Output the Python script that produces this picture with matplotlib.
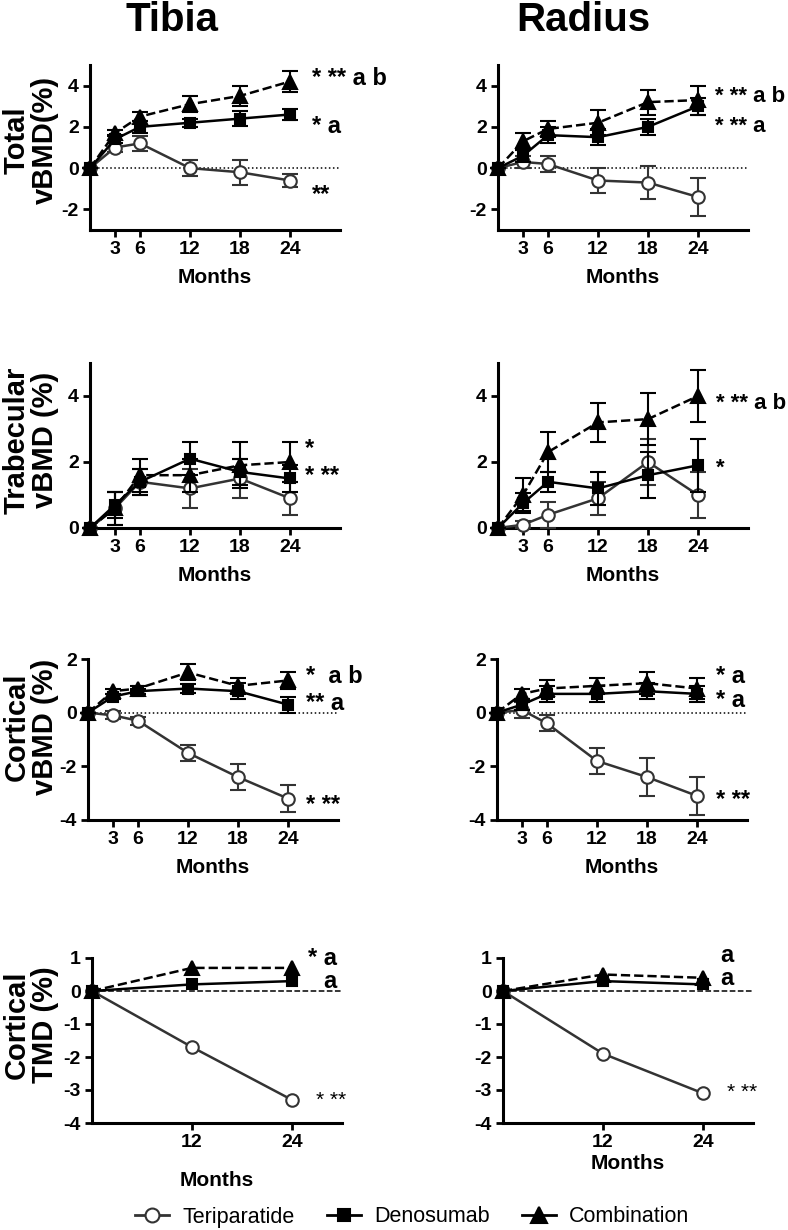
import matplotlib.pyplot as plt
from matplotlib.lines import Line2D
import numpy as np

plt.rcParams['font.family'] = ['Liberation Sans', 'DejaVu Sans']
plt.rcParams['font.weight'] = 'bold'
plt.rcParams['axes.unicode_minus'] = False

months = [0, 3, 6, 12, 18, 24]
tmd_months = [0, 12, 24]
groups = ['Teriparatide', 'Denosumab', 'Combination']

# total vBMD (%)
tib_tot_teri = [0, 1.0, 1.2, 0.0, -0.2, -0.6]
tib_tot_teri_se = [0, 0.2, 0.35, 0.4, 0.6, 0.3]
tib_tot_deno = [0, 1.4, 2.0, 2.2, 2.4, 2.6]
tib_tot_deno_se = [0, 0.2, 0.3, 0.2, 0.36, 0.25]
tib_tot_comb = [0, 1.7, 2.5, 3.1, 3.5, 4.2]
tib_tot_comb_se = [0, 0.15, 0.2, 0.4, 0.5, 0.5]

rad_tot_teri = [0, 0.3, 0.2, -0.6, -0.7, -1.4]
rad_tot_teri_se = [0, 0.3, 0.4, 0.6, 0.8, 0.9]
rad_tot_deno = [0, 0.6, 1.6, 1.5, 2.0, 3.0]
rad_tot_deno_se = [0, 0.3, 0.4, 0.4, 0.4, 0.4]
rad_tot_comb = [0, 1.3, 1.9, 2.2, 3.2, 3.3]
rad_tot_comb_se = [0, 0.4, 0.4, 0.6, 0.6, 0.7]

# trabecular vBMD (%)
tib_trab_teri = [0, 0.6, 1.4, 1.2, 1.5, 0.9]
tib_trab_teri_se = [0, 0.5, 0.4, 0.6, 0.6, 0.5]
tib_trab_deno = [0, 0.7, 1.4, 2.1, 1.7, 1.5]
tib_trab_deno_se = [0, 0.4, 0.4, 0.5, 0.4, 0.4]
tib_trab_comb = [0, 0.6, 1.6, 1.6, 1.9, 2.0]
tib_trab_comb_se = [0, 0.5, 0.5, 0.5, 0.7, 0.6]

rad_trab_teri = [0, 0.1, 0.4, 0.9, 2.0, 1.0]
rad_trab_teri_se = [0, 0.1, 0.4, 0.5, 0.7, 0.7]
rad_trab_deno = [0, 0.75, 1.4, 1.2, 1.6, 1.9]
rad_trab_deno_se = [0, 0.3, 0.3, 0.5, 0.7, 0.8]
rad_trab_comb = [0, 1.0, 2.3, 3.2, 3.3, 4.0]
rad_trab_comb_se = [0, 0.5, 0.6, 0.6, 0.8, 0.8]

# cortical vBMD (%)
tib_cort_teri = [0, -0.1, -0.3, -1.5, -2.4, -3.2]
tib_cort_teri_se = [0, 0.15, 0.15, 0.3, 0.5, 0.5]
tib_cort_deno = [0, 0.6, 0.8, 0.9, 0.8, 0.3]
tib_cort_deno_se = [0, 0.1, 0.1, 0.15, 0.3, 0.3]
tib_cort_comb = [0, 0.8, 0.9, 1.5, 1.0, 1.2]
tib_cort_comb_se = [0, 0.1, 0.1, 0.3, 0.3, 0.3]

rad_cort_teri = [0, 0.1, -0.4, -1.8, -2.4, -3.1]
rad_cort_teri_se = [0, 0.3, 0.3, 0.5, 0.7, 0.7]
rad_cort_deno = [0, 0.3, 0.7, 0.7, 0.8, 0.7]
rad_cort_deno_se = [0, 0.2, 0.3, 0.3, 0.3, 0.3]
rad_cort_comb = [0, 0.7, 0.9, 1.0, 1.1, 0.9]
rad_cort_comb_se = [0, 0.2, 0.3, 0.3, 0.4, 0.4]

# cortical TMD (%), no error bars
tib_tmd_teri = [0, -1.7, -3.3]
tib_tmd_deno = [0, 0.2, 0.3]
tib_tmd_comb = [0, 0.7, 0.7]

rad_tmd_teri = [0, -1.9, -3.1]
rad_tmd_deno = [0, 0.3, 0.2]
rad_tmd_comb = [0, 0.5, 0.4]

styles = [
    dict(color='#333333', ls='-', marker='o', mfc='white', mec='#333333', ms=9),
    dict(color='black', ls='-', marker='s', mfc='black', mec='black', ms=7.5),
    dict(color='black', ls='--', marker='^', mfc='black', mec='black', ms=10),
]


def draw_panel(ax, x, series, errs, ylim, yticks, xticks, ref_ls, notes):
    for i, y in enumerate(series):
        st = styles[i]
        if errs is not None:
            ax.errorbar(x, y, yerr=errs[i], color=st['color'], ls=st['ls'], lw=1.8,
                        marker=st['marker'], mfc=st['mfc'], mec=st['mec'], mew=1.5,
                        ms=st['ms'], capsize=6, elinewidth=1.5, capthick=1.5,
                        clip_on=False, zorder=3 + i)
        else:
            ax.plot(x, y, color=st['color'], ls=st['ls'], lw=1.8, marker=st['marker'],
                    mfc=st['mfc'], mec=st['mec'], mew=1.5, ms=st['ms'],
                    clip_on=False, zorder=3 + i)
    if ref_ls:
        ax.axhline(0, color='black', ls=ref_ls, lw=1.1, zorder=1)
    ax.set_xlim(0, 30)
    ax.set_ylim(*ylim)
    ax.set_yticks(yticks)
    ax.set_xticks(xticks)
    for s in ['top', 'right']:
        ax.spines[s].set_visible(False)
    for s in ['left', 'bottom']:
        ax.spines[s].set_linewidth(2.2)
    ax.tick_params(labelsize=14, width=2, length=5, direction='out', pad=3)
    for txt, tx, ty, size, weight in notes:
        ax.text(tx, ty, txt, fontsize=size, fontweight=weight, ha='left', va='baseline',
                clip_on=False)


fig = plt.figure(figsize=(7.88, 12.3), dpi=100)
W = 250 / 788


def rect(left_px, top_px, h_px=165):
    return [left_px / 788, 1 - (top_px + h_px) / 1230, W, h_px / 1230]


ax1 = fig.add_axes(rect(90, 65))
draw_panel(ax1, months, [tib_tot_teri, tib_tot_deno, tib_tot_comb],
           [tib_tot_teri_se, tib_tot_deno_se, tib_tot_comb_se],
           (-3, 5), [-2, 0, 2, 4], [3, 6, 12, 18, 24], ':',
           [('* ** a b', 26.6, 4.05, 17, 'bold'), ('* a', 26.6, 1.7, 17, 'bold'),
            ('**', 26.6, -1.6, 17, 'bold')])
ax2 = fig.add_axes(rect(498, 65))
draw_panel(ax2, months, [rad_tot_teri, rad_tot_deno, rad_tot_comb],
           [rad_tot_teri_se, rad_tot_deno_se, rad_tot_comb_se],
           (-3, 5), [-2, 0, 2, 4], [3, 6, 12, 18, 24], ':',
           [('* ** a b', 26.0, 3.2, 16, 'bold'), ('* ** a', 26.0, 1.75, 16, 'bold')])

ax3 = fig.add_axes(rect(90, 363))
draw_panel(ax3, months, [tib_trab_teri, tib_trab_deno, tib_trab_comb],
           [tib_trab_teri_se, tib_trab_deno_se, tib_trab_comb_se],
           (0, 5), [0, 2, 4], [3, 6, 12, 18, 24], None,
           [('*', 25.8, 2.2, 17, 'bold'), ('* **', 25.8, 1.36, 17, 'bold')])
ax4 = fig.add_axes(rect(498, 363))
draw_panel(ax4, months, [rad_trab_teri, rad_trab_deno, rad_trab_comb],
           [rad_trab_teri_se, rad_trab_deno_se, rad_trab_comb_se],
           (0, 5), [0, 2, 4], [3, 6, 12, 18, 24], None,
           [('* ** a b', 26.2, 3.6, 16, 'bold'), ('*', 26.2, 1.66, 16, 'bold')])

ax5 = fig.add_axes(rect(88, 659, 161))
draw_panel(ax5, months, [tib_cort_teri, tib_cort_deno, tib_cort_comb],
           [tib_cort_teri_se, tib_cort_deno_se, tib_cort_comb_se],
           (-4, 2), [-4, -2, 0, 2], [3, 6, 12, 18, 24], ':',
           [('*  a b', 26.1, 1.09, 17, 'bold'), ('** a', 26.1, 0.1, 17, 'bold'),
            ('* **', 26.1, -3.7, 17, 'bold')])
ax6 = fig.add_axes(rect(497, 659, 161))
draw_panel(ax6, months, [rad_cort_teri, rad_cort_deno, rad_cort_comb],
           [rad_cort_teri_se, rad_cort_deno_se, rad_cort_comb_se],
           (-4, 2), [-4, -2, 0, 2], [3, 6, 12, 18, 24], ':',
           [('* a', 26.3, 1.12, 17, 'bold'), ('* a', 26.3, 0.2, 17, 'bold'),
            ('* **', 26.3, -3.5, 17, 'bold')])

ax7 = fig.add_axes(rect(92, 958))
draw_panel(ax7, tmd_months, [tib_tmd_teri, tib_tmd_deno, tib_tmd_comb], None,
           (-4, 1), [-4, -3, -2, -1, 0, 1], [12, 24], '--',
           [('* a', 25.9, 0.79, 17, 'bold'), ('a', 27.7, 0.1, 17, 'bold'),
            ('* **', 26.9, -3.5, 15, 'normal')])
ax8 = fig.add_axes(rect(503, 958))
draw_panel(ax8, tmd_months, [rad_tmd_teri, rad_tmd_deno, rad_tmd_comb], None,
           (-4, 1), [-4, -3, -2, -1, 0, 1], [12, 24], '--',
           [('a', 26.1, 0.88, 17, 'bold'), ('a', 26.1, 0.18, 17, 'bold'),
            ('* **', 26.9, -3.25, 15, 'normal')])

for ax in [ax1, ax2, ax3, ax4, ax5, ax6]:
    ax.set_xlabel('Months', fontsize=15, fontweight='bold', labelpad=7)
ax7.set_xlabel('Months', fontsize=15, fontweight='bold', labelpad=14)
ax8.set_xlabel('Months', fontsize=15, fontweight='bold', labelpad=2)

fig.text(172 / 788, 1 - 20 / 1230, 'Tibia', fontsize=29, fontweight='bold', ha='center', va='center')
fig.text(583 / 788, 1 - 20 / 1230, 'Radius', fontsize=29, fontweight='bold', ha='center', va='center')

ylabels = [('Total\nvBMD(%)', 140), ('Trabecular\nvBMD (%)', 440),
           ('Cortical\nvBMD (%)', 727), ('Cortical\nTMD (%)', 1025)]
for lab, ypx in ylabels:
    fig.text(31 / 788, 1 - ypx / 1230, lab, fontsize=21, fontweight='bold', rotation=90,
             ha='center', va='center', multialignment='center', linespacing=1.0)

# legend handles: solid lines with the group markers
handles = [Line2D([], [], color=st['color'], ls='-', lw=2, marker=st['marker'],
                  mfc=st['mfc'], mec=st['mec'], mew=1.5, ms=st['ms'] + 1) for st in styles]
fig.legend(handles, groups, loc='center', bbox_to_anchor=(0.523, 1 - 1217 / 1230), ncol=3,
           frameon=False, prop={'size': 15.5, 'weight': 'normal'}, handlelength=1.6,
           columnspacing=1.5, handletextpad=0.6)

fig.savefig('out.png', dpi=100)
